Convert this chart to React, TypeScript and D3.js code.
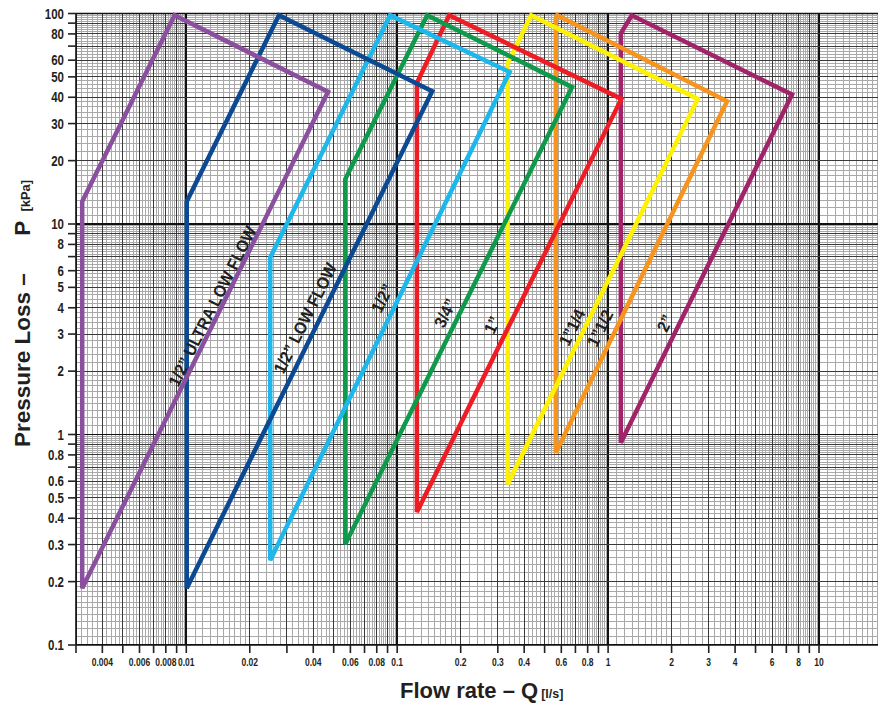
import React from "react";
import * as d3 from "d3";

const WIDTH = 878;
const HEIGHT = 704;

// Valve sizes (series)
const sizes = ["1/2\u201d ULTRA LOW FLOW", "1/2\u201d LOW FLOW", "1/2\u201d", "3/4\u201d", "1\u201d", "1\u201d1/4", "1\u201d1/2", "2\u201d"];
const colors = ["#8a4f9e", "#0b4a93", "#1db7eb", "#0e9a4a", "#ee1c25", "#fff200", "#f7941d", "#a1246b"];

// Operating-envelope vertices (Q in l/s, P in kPa):
// bottom (qMin, pBottom) -> knee (qMin, pKnee) -> peak (qPeak, pPeak) -> corner (qCorner, pCorner)
const qMin = [0.00321, 0.01005, 0.025, 0.0567, 0.124, 0.334, 0.565, 1.149];
const pBottom = [0.186, 0.186, 0.253, 0.301, 0.428, 0.581, 0.819, 0.914];
const pKnee = [12.8, 12.8, 6.93, 16.3, 46.7, 58, 95, 80.4];
const qPeak = [0.0088, 0.0275, 0.0926, 0.1388, 0.1764, 0.4316, 0.574, 1.295];
const pPeak = [98, 98, 98, 98, 98, 98, 98, 98];
const qCorner = [0.047, 0.1466, 0.3413, 0.675, 1.156, 2.661, 3.664, 7.45];
const pCorner = [42.5, 42.7, 52.7, 44.7, 39.3, 39.3, 38.3, 41.2];

// Label anchors (data coordinates)
const labelQ = [0.01328, 0.0366, 0.0849, 0.169, 0.282, 0.675, 0.916, 1.863];
const labelP = [4.07, 3.57, 4.44, 3.77, 3.31, 3.23, 3.2, 3.38];

const xTickLabels = [0.004, 0.006, 0.008, 0.01, 0.02, 0.04, 0.06, 0.08, 0.1, 0.2, 0.3, 0.4, 0.6, 0.8, 1, 2, 3, 4, 6, 8, 10];
const yTickLabels = [0.1, 0.2, 0.3, 0.4, 0.5, 0.6, 0.8, 1, 2, 3, 4, 5, 6, 8, 10, 20, 30, 40, 50, 60, 80, 100];

const xDomain = [0.003, 20];
const yDomain = [0.1, 100];

const LEFT = 76;
const RIGHT = 882.5;
const TOP = 13.5;
const BOTTOM = 645;

function gridValues(dMin: number, dMax: number, lo: number, hi: number) {
  const major: { v: number; decade: boolean }[] = [];
  const minor: number[] = [];
  for (let d = dMin; d <= dMax * 1.0001; d *= 10) {
    for (let m = 1; m <= 9; m++) {
      const v = +(m * d).toPrecision(6);
      if (v >= lo * 0.9999 && v <= hi * 1.0001) major.push({ v, decade: m === 1 });
      const step = m === 1 ? 0.1 : 0.2;
      const n = m === 1 ? 9 : 4;
      for (let k = 1; k <= n; k++) {
        const s = +((m + k * step) * d).toPrecision(6);
        if (s >= lo && s <= hi) minor.push(s);
      }
    }
  }
  return { major, minor };
}

const fmt = (v: number) => String(+v.toPrecision(3));

export default function App() {
  const x = d3.scaleLog().domain(xDomain).range([LEFT, RIGHT]);
  const y = d3.scaleLog().domain(yDomain).range([BOTTOM, TOP]);

  const xg = gridValues(0.001, 10, xDomain[0], xDomain[1]);
  const yg = gridValues(0.1, 100, yDomain[0], yDomain[1]);

  const line = d3
    .line<[number, number]>()
    .x((d) => x(d[0]))
    .y((d) => y(d[1]))
    .curve(d3.curveLinearClosed);

  const polys = sizes.map((name, i) => {
    const pts: [number, number][] = [
      [qMin[i], pBottom[i]],
      [qMin[i], pKnee[i]],
      [qPeak[i], pPeak[i]],
      [qCorner[i], pCorner[i]],
    ];
    return { name, color: colors[i], d: line(pts) || "", lx: x(labelQ[i]), ly: y(labelP[i]) };
  });

  const angle = (-Math.atan(2) * 180) / Math.PI;
  const font = "'Liberation Sans', Arial, sans-serif";

  return (
    <svg width={WIDTH} height={HEIGHT} style={{ position: "absolute", left: 0, top: 0, background: "#fff" }}>
      <rect x={0} y={0} width={WIDTH} height={HEIGHT} fill="#fff" />
      <defs>
        <clipPath id="plot">
          <rect x={LEFT} y={TOP} width={RIGHT - LEFT} height={BOTTOM - TOP} />
        </clipPath>
      </defs>
      <g clipPath="url(#plot)" shapeRendering="crispEdges">
        {xg.minor.map((v, i) => (
          <line key={"xm" + i} x1={x(v)} x2={x(v)} y1={TOP} y2={BOTTOM} stroke="#a9a9a9" strokeWidth={1} />
        ))}
        {yg.minor.map((v, i) => (
          <line key={"ym" + i} x1={LEFT} x2={RIGHT} y1={y(v)} y2={y(v)} stroke="#a9a9a9" strokeWidth={1} />
        ))}
        {xg.major.map((g, i) => (
          <line key={"xM" + i} x1={x(g.v)} x2={x(g.v)} y1={TOP} y2={BOTTOM} stroke={g.decade ? "#111" : "#3a3a3a"} strokeWidth={g.decade ? 1.6 : 1} />
        ))}
        {yg.major.map((g, i) => (
          <line key={"yM" + i} x1={LEFT} x2={RIGHT} y1={y(g.v)} y2={y(g.v)} stroke={g.decade ? "#111" : "#3a3a3a"} strokeWidth={g.decade ? 1.6 : 1} />
        ))}
      </g>
      {/* axes */}
      <line x1={LEFT} x2={LEFT} y1={TOP - 0.5} y2={BOTTOM} stroke="#111" strokeWidth={1.6} />
      <line x1={LEFT} x2={WIDTH} y1={BOTTOM} y2={BOTTOM} stroke="#111" strokeWidth={1.6} />
      <line x1={LEFT} x2={WIDTH} y1={TOP} y2={TOP} stroke="#111" strokeWidth={1.4} />
      {yg.major.map((g, i) => (
        <line key={"yt" + i} x1={LEFT - 8} x2={LEFT} y1={y(g.v)} y2={y(g.v)} stroke="#222" strokeWidth={1.6} />
      ))}
      {xg.major.map((g, i) => (
        <line key={"xt" + i} x1={x(g.v)} x2={x(g.v)} y1={BOTTOM} y2={BOTTOM + 8} stroke="#222" strokeWidth={1.6} />
      ))}
      {yTickLabels.map((v, i) => (
        <text
          key={"yl" + i}
          transform={`translate(${LEFT - 12},${y(v)}) scale(0.82,1)`}
          dy="0.36em"
          textAnchor="end"
          fontFamily={font}
          fontWeight="bold"
          fontSize={14}
          fill="#231f20"
        >
          {fmt(v)}
        </text>
      ))}
      {xTickLabels.map((v, i) => (
        <text
          key={"xl" + i}
          transform={`translate(${x(v)},${BOTTOM + 21}) scale(0.74,1)`}
          textAnchor="middle"
          fontFamily={font}
          fontWeight="bold"
          fontSize={11.5}
          fill="#231f20"
        >
          {fmt(v)}
        </text>
      ))}
      {/* curves, largest first so smaller sizes sit on top */}
      {polys
        .slice()
        .reverse()
        .map((p) => (
          <path key={p.name} d={p.d} fill="none" stroke={p.color} strokeWidth={4.5} strokeLinejoin="miter" />
        ))}
      {polys.map((p) => (
        <text
          key={"lab" + p.name}
          transform={`translate(${p.lx},${p.ly}) rotate(${angle}) scale(0.92,1)`}
          textAnchor="middle"
          dy="0.35em"
          fontFamily={font}
          fontWeight="bold"
          fontSize={17}
          fill="#231f20"
        >
          {p.name}
        </text>
      ))}
      {/* axis titles */}
      <text transform="translate(30,447) rotate(-90)" fontFamily={font} fontWeight="bold" fontSize={22.5} fill="#231f20">
        Pressure Loss –{"\u00a0\u00a0\u00a0\u00a0\u00a0\u00a0"}P
        <tspan fontSize={13} dx={9}>[kPa]</tspan>
      </text>
      <text x={400} y={698} fontFamily={font} fontWeight="bold" fontSize={22} fill="#231f20">
        Flow rate – Q
        <tspan fontSize={12.5} dx={3}>[l/s]</tspan>
      </text>
    </svg>
  );
}
